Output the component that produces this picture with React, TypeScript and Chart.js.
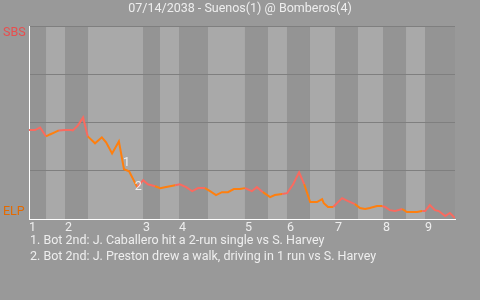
import React, { useEffect, useRef } from 'react';
import { Chart, registerables } from 'chart.js';

Chart.register(...registerables);

const TITLE = '07/14/2038 - Suenos(1) @ Bomberos(4)';
const AWAY_ABBR = 'SBS';
const HOME_ABBR = 'ELP';
const INNING_LABELS = ['1', '2', '3', '4', '5', '6', '7', '8', '9'];
// game progress (0-100) at which each half-inning begins: top 1, bot 1, top 2, ...
const HALF_STARTS = [0, 4.0, 8.45, 13.85, 26.76, 30.75, 35.21, 42.02, 50.7, 56.1, 60.56, 65.96, 71.83, 77.23, 83.1, 88.5, 92.96];
const GAME_END = 100;

// game progress of each plate-appearance result
const PROGRESS = [
  0, 1.4, 2.6, 4.0, 4.9, 5.9, 7.0, 8.5, 9.9, 10.3, 11.5, 12.7, 13.8, 15.5, 17.1, 18.1, 19.5, 21.1, 22.3, 23.5,
  25.4, 26.8, 27.9, 29.6, 30.8, 31.9, 33.1, 34.3, 35.4, 36.9, 38.3, 39.7, 41.3, 42.5, 43.9, 45.3, 46.7, 48.1, 49.5, 50.7,
  52.3, 53.5, 54.9, 56.6, 57.7, 59.4, 60.6, 62.0, 63.4, 64.6, 66.0, 67.6, 68.8, 69.2, 70.2, 71.4, 73.5, 74.9, 76.5, 77.7,
  78.9, 80.0, 81.7, 82.9, 83.6, 84.7, 85.9, 87.6, 88.7, 91.1, 92.3, 93.0, 94.1, 95.3, 96.2, 97.7, 98.8, 100,
];
// SBS win probability (%)
const SBS_WIN_PCT = [
  46.1, 46.1, 47.4, 42.8, 43.8, 44.8, 45.9, 46.1, 46.1, 45.9, 48.5, 52.6, 42.8, 39.2, 42.3, 39.7, 34.0, 40.2, 25.8, 24.7,
  16.5, 20.1, 18.0, 17.0, 16.0, 16.5, 17.0, 17.5, 18.0, 16.5, 14.4, 16.0, 16.0, 14.4, 12.4, 13.9, 13.9, 15.5, 15.5, 16.0,
  14.4, 16.5, 13.9, 11.3, 12.4, 12.9, 13.4, 18.0, 24.2, 18.0, 8.8, 8.8, 10.3, 8.2, 6.2, 6.2, 10.8, 9.3, 7.7, 5.7,
  5.2, 5.7, 6.7, 6.7, 6.2, 4.6, 4.1, 5.2, 3.6, 3.6, 4.1, 4.1, 7.2, 4.6, 4.1, 1.5, 3.1, 0.5,
];
const Y_TICKS = [0, 25, 50, 75, 100];

// annotated events: index of the play's resulting point
const NOTE_POINTS = [18, 20];
const NOTE_MARKS = ['1', '2'];
const NOTES = [
  '1. Bot 2nd: J. Caballero hit a 2-run single vs S. Harvey',
  '2. Bot 2nd: J. Preston drew a walk, driving in 1 run vs S. Harvey',
];

const BG = '#999999';
const DARK_BAND = '#949494';
const LIGHT_BAND = '#a9a9a9';
const GRID = '#7f7f7f';
const TEXT = '#eeeeee';
const AWAY_COLOR = '#fa6a5f';
const HOME_COLOR = '#ff7f0e';
const AWAY_TEXT = '#e84e4e';
const HOME_TEXT = '#e46a00';
const FONT = 'Roboto';
const FONT_SIZE = 12.5;

const INNING_STARTS = HALF_STARTS.filter((_, i) => i % 2 === 0);

function halfIndex(x: number): number {
  let idx = 0;
  for (let i = 0; i < HALF_STARTS.length; i++) if (HALF_STARTS[i] < x) idx = i;
  return idx;
}

const decor = {
  id: 'decor',
  beforeDraw(chart: any) {
    const { ctx, chartArea: a, scales } = chart;
    const x = scales.x;
    ctx.save();
    ctx.fillStyle = BG;
    ctx.fillRect(0, 0, chart.width, chart.height);
    HALF_STARTS.forEach((s, i) => {
      const e = i + 1 < HALF_STARTS.length ? HALF_STARTS[i + 1] : GAME_END;
      const x0 = x.getPixelForValue(s);
      const x1 = x.getPixelForValue(e);
      ctx.fillStyle = i % 2 === 0 ? DARK_BAND : LIGHT_BAND;
      ctx.fillRect(x0, a.top, x1 - x0, a.bottom - a.top);
    });
    ctx.restore();
  },
  afterDraw(chart: any) {
    const { ctx, chartArea: a, scales } = chart;
    const x = scales.x;
    const y = scales.y;
    ctx.save();
    ctx.globalAlpha = 1;
    ctx.font = `${FONT_SIZE}px ${FONT}`;
    ctx.textBaseline = 'middle';
    // title
    ctx.fillStyle = TEXT;
    ctx.textAlign = 'center';
    ctx.fillText(TITLE, chart.width / 2, 9);
    // team labels
    ctx.textAlign = 'left';
    ctx.fillStyle = AWAY_TEXT;
    ctx.fillText(AWAY_ABBR, 3, a.top + 7);
    ctx.fillStyle = HOME_TEXT;
    ctx.fillText(HOME_ABBR, 3, a.bottom - 7);
    // event marks
    ctx.fillStyle = TEXT;
    ctx.textAlign = 'center';
    NOTE_POINTS.forEach((p, i) => {
      const mx = (x.getPixelForValue(PROGRESS[p - 1]) + x.getPixelForValue(PROGRESS[p])) / 2;
      const my = (y.getPixelForValue(SBS_WIN_PCT[p - 1]) + y.getPixelForValue(SBS_WIN_PCT[p])) / 2;
      ctx.fillText(NOTE_MARKS[i], mx + 5, my + 8);
    });
    // notes
    ctx.textAlign = 'left';
    NOTES.forEach((n, i) => {
      ctx.fillText(n, a.left + 1, a.bottom + 22 + i * 16);
    });
    ctx.restore();
  },
};

export default function App() {
  const ref = useRef<HTMLCanvasElement | null>(null);
  useEffect(() => {
    if (!ref.current) return;
    const data = PROGRESS.map((p, i) => ({ x: p, y: SBS_WIN_PCT[i] }));
    const chart = new Chart(ref.current, {
      type: 'line',
      data: {
        datasets: [
          {
            data,
            borderWidth: 2,
            pointRadius: 0,
            tension: 0,
            borderColor: AWAY_COLOR,
            segment: {
              borderColor: (ctx: any) => (halfIndex(ctx.p1.parsed.x) % 2 === 0 ? AWAY_COLOR : HOME_COLOR),
            },
          },
        ],
      },
      options: {
        responsive: false,
        animation: false,
        layout: { padding: { top: 26, left: 29, right: 25, bottom: 64 } },
        plugins: { legend: { display: false }, title: { display: false }, tooltip: { enabled: false } },
        scales: {
          x: {
            type: 'linear',
            min: 0,
            max: GAME_END,
            afterBuildTicks: (scale: any) => {
              scale.ticks = INNING_STARTS.map((v) => ({ value: v }));
            },
            ticks: {
              align: 'start',
              padding: 1,
              color: TEXT,
              font: { family: FONT, size: FONT_SIZE },
              maxRotation: 0,
              autoSkip: false,
              callback: (_v: any, i: number) => INNING_LABELS[i],
            },
            grid: { display: false, drawTicks: false },
            border: { display: true, color: '#ffffff', width: 1 },
          },
          y: {
            min: 0,
            max: 100,
            afterBuildTicks: (scale: any) => {
              scale.ticks = Y_TICKS.map((v) => ({ value: v }));
            },
            ticks: { display: false },
            grid: { color: GRID, lineWidth: 1, drawTicks: false },
            border: { display: true, color: '#ffffff', width: 1 },
          },
        },
      },
      plugins: [decor],
    });
    return () => chart.destroy();
  }, []);
  return (
    <div style={{ position: 'fixed', left: 0, top: 0, width: 480, height: 300 }}>
      <canvas ref={ref} width={480} height={300} style={{ display: 'block' }} />
    </div>
  );
}
